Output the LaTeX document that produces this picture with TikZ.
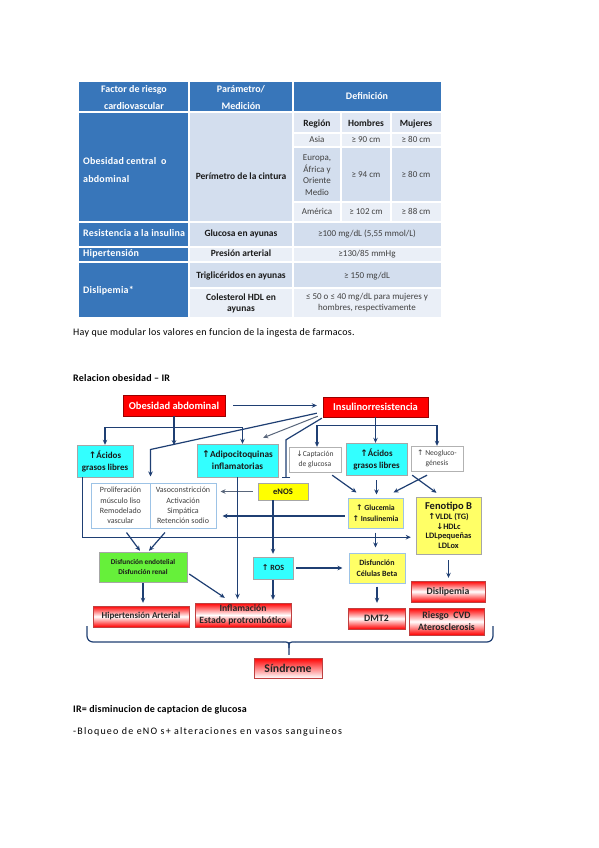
\documentclass[tikz,border=0pt]{standalone}
\usepackage{fontspec}
\setmainfont{Carlito}
\newfontfamily\symf{DejaVu Sans}
\usetikzlibrary{arrows.meta,calc}
\newcommand\fsz[2]{\fontsize{#1}{#2}\selectfont}
\newcommand\ua{{\symf ↑}}
\newcommand\da{{\symf ↓}}
\definecolor{hdr}{HTML}{3876BA}
\definecolor{bandD}{HTML}{D3DEEE}
\definecolor{bandL}{HTML}{EAEFF7}
\definecolor{bandM}{HTML}{E0E7F3}
\definecolor{navy}{HTML}{1F3F73}
\definecolor{cyanb}{HTML}{33FFFF}
\definecolor{yel}{HTML}{FFFF66}
\definecolor{yel2}{HTML}{FFFF00}
\definecolor{grn}{HTML}{66F03A}
\definecolor{redb}{HTML}{FF0000}
\definecolor{lblue}{HTML}{9DC3E6}
\definecolor{txt}{HTML}{1A1A1A}
\tikzset{
  base/.style={inner sep=0pt, align=center, text=txt},
  redsolid/.style={base, draw=red!60!black, fill=redb, text=white, font=\bfseries\fsz{10.5}{12}},
  cyanbox/.style={base, draw=gray!70, fill=cyanb, font=\bfseries\fsz{9}{12}},
  wbox/.style={base, draw=gray!60, fill=white, font=\fsz{7.6}{10.5}, text=black!75},
  lbbox/.style={base, draw=lblue, line width=1pt, fill=white, font=\fsz{8}{10.2}, text=black!75},
  ybox/.style={base, draw=lblue, line width=1pt, fill=yel, font=\bfseries\fsz{7.8}{10.5}},
  redgrad/.style={base, draw=red!50!gray, top color=red, bottom color=red, middle color=white, font=\bfseries\fsz{9.8}{12}, text=black!85},
  line/.style={draw=navy, line width=1.2pt},
  arr/.style={line, -{Stealth[length=5pt,width=4.5pt]}},
  garr/.style={draw=gray!60!navy, line width=1pt, -{Stealth[length=5pt,width=4.5pt]}},
  inh/.style={line, -{Bar[width=8pt]}},
  tcell/.style={inner sep=0pt, align=center, font=\fsz{9}{11.7}, text=black!75},
  tbold/.style={tcell, font=\bfseries\fsz{9.5}{11}, text=txt},
  sl/.style={text height=6.6pt, text depth=2.2pt},
  thd/.style={inner sep=0pt, align=center, font=\bfseries\fsz{10}{16.5}, text=white},
  tfc/.style={inner sep=0pt, align=left, anchor=west, font=\bfseries\fsz{10}{18}\addfontfeature{LetterSpace=2}, text=white},
  para/.style={inner sep=0pt, anchor=west, font=\fsz{10}{12}\addfontfeature{LetterSpace=2.6}, text=black}
}
\begin{document}
\begin{tikzpicture}[x=1pt,y=-1pt]
\useasboundingbox (0,0) rectangle (599,848);
\fill[white] (0,0) rectangle (599,848);

% ---------- table ----------
\fill[hdr] (79,82) rectangle (441,112);
\fill[hdr] (79,112) rectangle (189,317);
\fill[bandD] (189,112) rectangle (293,222);
\fill[bandM] (293,112) rectangle (441,133);
\fill[bandL] (293,133) rectangle (441,147);
\fill[bandD] (293,147) rectangle (441,202);
\fill[bandL] (293,202) rectangle (441,222);
\fill[bandD] (189,222) rectangle (441,247);
\fill[bandL] (189,247) rectangle (441,262);
\fill[bandD] (189,262) rectangle (441,288);
\fill[bandL] (189,288) rectangle (441,317);
\draw[white, line width=2pt] (79,112) -- (441,112);
\draw[white, line width=1.2pt] (79,222) -- (441,222) (79,247) -- (441,247) (79,262) -- (441,262)
  (189,288) -- (441,288) (293,133) -- (441,133) (293,147) -- (441,147) (293,202) -- (441,202)
  (189,82) -- (189,317) (293,82) -- (293,317) (341,112) -- (341,222) (391,112) -- (391,222);

\node[thd] (h1) at (134,97.5) {Factor de riesgo\\cardiovascular};
\node[thd] (h2) at (241,97.5) {Parámetro/\\Medición};
\node[thd, sl] (h3) at (367,97) {Definición};

\node[tfc] (c1) at (83,170) {Obesidad central\ \ o\\abdominal};
\node[tfc, sl] (c2) at (83,234.5) {Resistencia a la insulina};
\node[tfc, sl] (c3) at (83,254.5) {Hipertensión};
\node[tfc, sl] (c4) at (83,291) {Dislipemia*};

\node[tbold, sl] (p1) at (241,177) {Perímetro de la cintura};
\node[tbold, sl] (p2) at (241,234.5) {Glucosa en ayunas};
\node[tbold, sl] (p3) at (241,254.5) {Presión arterial};
\node[tbold, sl] (p4) at (241,276) {Triglicéridos en ayunas};
\node[tbold] (p5) at (241,303) {Colesterol HDL en\\ayunas};

\node[tbold, sl] (r0) at (317,124.5) {Región};
\node[tbold, sl] (r1) at (366,124.5) {Hombres};
\node[tbold, sl] (r2) at (416,124.5) {Mujeres};
\node[tcell, sl] (a0) at (317,140) {Asia};
\node[tcell, sl] (a1) at (366,140) {≥ 90 cm};
\node[tcell, sl] (a2) at (416,140) {≥ 80 cm};
\node[tcell] (e0) at (317,175) {Europa,\\África y\\Oriente\\Medio};
\node[tcell, sl] (e1) at (366,175) {≥ 94 cm};
\node[tcell, sl] (e2) at (416,175) {≥ 80 cm};
\node[tcell, sl] (m0) at (317,212) {América};
\node[tcell, sl] (m1) at (366,212) {≥ 102 cm};
\node[tcell, sl] (m2) at (416,212) {≥ 88 cm};
\node[tcell, sl] (d2) at (367,234.5) {≥100 mg/dL (5,55 mmol/L)};
\node[tcell, sl] (d3) at (367,254.5) {≥130/85 mmHg};
\node[tcell, sl] (d4) at (367,276) {≥ 150 mg/dL};
\node[tcell, font=\fsz{9}{11}] (d5) at (367,303) {≤ 50 o ≤ 40 mg/dL para mujeres y\\hombres, respectivamente};

\node[para] (hay) at (73,333) {Hay que modular los valores en funcion de la ingesta de farmacos.};
\node[para, font=\bfseries\fsz{10}{12}\addfontfeature{LetterSpace=2}] (rel) at (73,378) {Relacion obesidad – IR};
\node[para, font=\bfseries\fsz{10}{12}\addfontfeature{LetterSpace=2}] (irdef) at (73,710) {IR= disminucion de captacion de glucosa};
\node[para, font=\fsz{10}{12}\addfontfeature{LetterSpace=12}] (bloq) at (73,732) {-Bloqueo de eNO s+ alteraciones en vasos sanguineos};

% ---------- diagram nodes ----------
\node[redsolid, minimum width=102, minimum height=21] (obes) at (174,405.5) {Obesidad abdominal};
\node[redsolid, minimum width=105, minimum height=20] (insr) at (375.5,407) {Insulinorresistencia};
\node[cyanbox, minimum width=56, minimum height=32] (acL) at (105,461) {\ua Ácidos\\grasos libres};
\node[cyanbox, minimum width=81, minimum height=33, font=\bfseries\fsz{9.3}{12}] (adip) at (237.5,460.5) {\ua Adipocitoquinas\\inflamatorias};
\node[wbox, minimum width=52, minimum height=25] (capt) at (315,459.5) {\da Captación\\de glucosa};
\node[cyanbox, minimum width=61, minimum height=32] (acR) at (376.5,459) {\ua Ácidos\\grasos libres};
\node[wbox, minimum width=52, minimum height=25] (neog) at (437,458.5) {\ua\ Neogluco-\\génesis};
\node[lbbox, minimum width=59, minimum height=45] (prol) at (120.5,505.5) {Proliferación\\músculo liso\\Remodelado\\vascular};
\node[lbbox, minimum width=66, minimum height=45] (vaso) at (183,505.5) {Vasoconstricción\\Activación\\Simpática\\Retención sodio};
\node[base, draw=gray!70, fill=yel2, minimum width=50, minimum height=17, font=\bfseries\fsz{8.5}{10}] (enos) at (283,491.5) {eNOS};
\node[ybox, minimum width=55, minimum height=30] (gluc) at (375.5,513) {\ua\ Glucemia\\\ua\ Insulinemia};
\node[base, draw=gray!70, fill=yel, minimum width=65, minimum height=57, font=\bfseries\fsz{8.3}{9.8}] (fenB) at (448.5,525.5) {{\fsz{10.5}{12}Fenotipo B}\\\ua VLDL (TG)\\\da HDLc\\LDLpequeñas\\LDLox};
\node[base, draw=gray!70, fill=grn, minimum width=88, minimum height=30, font=\bfseries\fsz{7.3}{10.5}] (disfE) at (143,567) {Disfunción endotelial\\Disfunción renal};
\node[cyanbox, minimum width=40, minimum height=22, font=\bfseries\fsz{8}{9}] (ros) at (273,568) {\ua\ ROS};
\node[ybox, minimum width=56, minimum height=30, font=\bfseries\fsz{8}{11}] (disfB) at (377,568) {Disfunción\\Células Beta};
\node[redgrad, minimum width=96, minimum height=21, font=\bfseries\fsz{9}{11}] (hta) at (141,616.5) {Hipertensión Arterial};
\node[redgrad, minimum width=96, minimum height=24, font=\bfseries\fsz{9.6}{11.5}] (infl) at (243,615) {Inflamación\\Estado protrombótico};
\node[redgrad, minimum width=57, minimum height=21] (dmt2) at (376.5,618.5) {DMT2};
\node[redgrad, minimum width=74, minimum height=21] (disl) at (448,591.5) {Dislipemia};
\node[redgrad, minimum width=75, minimum height=27, font=\bfseries\fsz{9.8}{12}] (cvd) at (446.5,621.5) {Riesgo\ \ CVD\\Aterosclerosis};
\node[redgrad, top color=red, bottom color=white, minimum width=68, minimum height=20, font=\bfseries\fsz{11.8}{13}] (sind) at (288,668) {Síndrome};

% ---------- connectors ----------
\draw[arr] ($(obes.east)+(8,0)$) -- ($(insr.west|-obes.east)+(-6,0)$);
\coordinate (ob1) at ($(obes.south)+(0,11)$);
\draw[line] (obes.south) -- (ob1);
\draw[arr] (ob1) -| (acL.north);
\draw[arr] (ob1) -| ($(adip.north)+(5,0)$);
\draw[arr] (ob1) -- ++(0,18);

\coordinate (f1) at ($(insr.south west)+(-6,-4)$);
\coordinate (f2) at ($(insr.south west)+(-5,-1)$);
\coordinate (f3) at ($(insr.south west)+(-1,1)$);
\draw[arr] (f1) -- ($(prol.north east)+(0,-33)$) -- ($(prol.north east)+(0,-6)$);
\draw[garr] (f2) -- ($(adip.north east)+(-15,-6)$);
\draw[inh] (f3) -- ($(enos.north)+(3,-43)$) -- ($(enos.north)+(3,-5)$);

\coordinate (ir1) at ($(insr.south)+(0,8)$);
\draw[line] (insr.south) -- (ir1);
\draw[arr] (ir1) -- (ir1|-acR.north);
\draw[arr] (ir1) -| ($(capt.north)+(2,0)$);
\draw[arr] (ir1) -| (neog.north);

\draw[arr] ($(capt.south east)+(-9,3)$) -- ($(gluc.north west)+(9,-5)$);
\draw[arr] ($(acR.south)+(0,5)$) -- ($(acR.south|-gluc.north)+(0,-3)$);
\draw[arr] ($(neog.south)+(-10,4)$) -- ($(gluc.north east)+(-10,-5)$);
\draw[arr] ($(acR.south east)+(5,0)$) -- ($(fenB.north)+(-12,-4)$);

\draw[garr] ($(enos.west)+(-5,0)$) -- ($(vaso.east|-enos.west)+(4,0)$);
\coordinate (g1) at ($(gluc.west)+(-3,3)$);
\draw[arr] (g1) -- ($(vaso.east|-g1)+(6,0)$);

\draw[arr] (adip.south) -- ($(adip.south|-infl.north)+(0,-4)$);
\draw[arr] (enos.south-|ros.north) -- ($(ros.north)+(0,-3)$);

\coordinate (a1) at ($(acL.south west)+(6,0)$);
\coordinate (a2) at ($(a1)+(0,60)$);
\draw[arr] (a1) -- (a2) -- ($(fenB.west|-a2)+(-5,0)$);

\draw[arr] ($(prol.south)+(6,4)$) -- ($(disfE.north)+(-3,-1)$);
\draw[arr] ($(vaso.south)+(-18,4)$) -- ($(disfE.north)+(6,-1)$);
\draw[arr] ($(disfE.south)+(0,1)$) -- ($(disfE.south|-hta.north)+(0,-3)$);
\draw[arr] ($(disfE.east)+(2,7)$) -- ($(infl.north west)+(30,-5)$);
\draw[arr] ($(ros.south)+(0,1)$) -- ($(ros.south|-infl.north)+(0,-3)$);
\draw[arr] ($(ros.east)+(3,0)$) -- ($(disfB.west|-ros.east)+(-6,0)$);
\draw[arr] ($(gluc.south)+(0,4)$) -- ($(gluc.south|-disfB.north)+(0,-5)$);
\draw[arr] ($(disfB.south)+(0,3)$) -- ($(disfB.south|-dmt2.north)+(0,-5)$);
\draw[arr] ($(fenB.south)+(0,6)$) -- ($(fenB.south|-disl.north)+(0,-3)$);

% brace
\coordinate (brL) at (87,626);
\coordinate (brR) at (493,626);
\coordinate (brC) at (289,642);
\draw[line, rounded corners=6] (brL) |- ($(brC)+(-6,0)$);
\draw[line, rounded corners=6] (brR) |- ($(brC)+(6,0)$);
\draw[line] ($(brC)+(-6,0)$) .. controls (brC) .. ($(brC)+(0,6)$);
\draw[line] ($(brC)+(6,0)$) .. controls (brC) .. ($(brC)+(0,6)$) -- ($(brC|-sind.north)+(0,-3)$);
\end{tikzpicture}
\end{document}
